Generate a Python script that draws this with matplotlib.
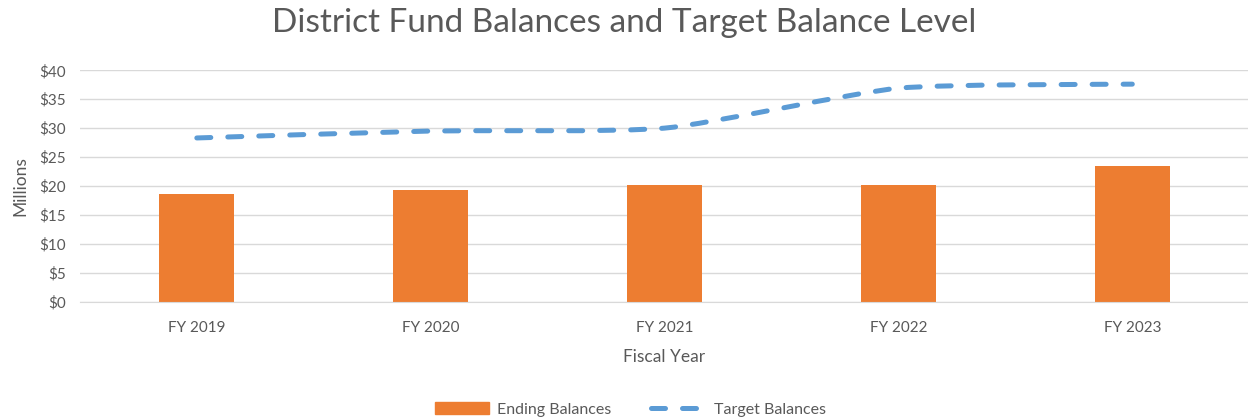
import matplotlib.pyplot as plt
from matplotlib.path import Path
from matplotlib.patches import PathPatch
from matplotlib.lines import Line2D
from matplotlib.patches import Patch

years = ['FY 2019', 'FY 2020', 'FY 2021', 'FY 2022', 'FY 2023']
ending_balances = [18.6, 19.3, 20.1, 20.1, 23.5]
target_balances = [28.3, 29.5, 30.0, 36.9, 37.6]
y_ticks = [0, 5, 10, 15, 20, 25, 30, 35, 40]

text_color = '#595959'
orange = '#ED7D31'
blue = '#5B9BD5'

plt.rcParams['font.family'] = ['Lato', 'DejaVu Sans']

fig = plt.figure(figsize=(12.48, 4.2), dpi=100)
ax = fig.add_axes([0.064, 0.2817, 0.937, 0.551])

x = list(range(len(years)))
ax.bar(x, ending_balances, width=0.32, color=orange, zorder=2)


def smooth_path(xs, ys, k=0.1):
    # smoothed line like excel: bezier curve through each point
    verts = [(xs[0], ys[0])]
    codes = [Path.MOVETO]
    n = len(xs)
    for i in range(n - 1):
        x0, y0 = xs[max(i - 1, 0)], ys[max(i - 1, 0)]
        x1, y1 = xs[i], ys[i]
        x2, y2 = xs[i + 1], ys[i + 1]
        x3, y3 = xs[min(i + 2, n - 1)], ys[min(i + 2, n - 1)]
        verts += [(x1 + (x2 - x0) * k, y1 + (y2 - y0) * k),
                  (x2 - (x3 - x1) * k, y2 - (y3 - y1) * k),
                  (x2, y2)]
        codes += [Path.CURVE4] * 3
    return Path(verts, codes)


line_style = dict(color=blue, linewidth=3.6, linestyle=(0, (2.8, 3.4)),
                  dash_capstyle='round')
patch = PathPatch(smooth_path(x, target_balances), fill=False, zorder=3,
                  edgecolor=blue, linewidth=3.6, linestyle=(0, (2.8, 3.4)),
                  capstyle='round')
ax.add_patch(patch)

ax.set_xlim(-0.5, len(years) - 0.5)
ax.set_ylim(0, 40)
ax.set_yticks(y_ticks)
ax.set_yticklabels(['${}'.format(v) for v in y_ticks])
ax.set_xticks(x)
ax.set_xticklabels(years)
ax.grid(axis='y', color='#D9D9D9', linewidth=1, zorder=0)
ax.set_axisbelow(True)
for s in ['top', 'right', 'left']:
    ax.spines[s].set_visible(False)
ax.spines['bottom'].set_color('#D9D9D9')
ax.tick_params(length=0, labelsize=11, colors=text_color, pad=10)
ax.tick_params(axis='x', pad=14)

ax.set_xlabel('Fiscal Year', fontsize=12.5, color=text_color, labelpad=10)
ax.set_ylabel('Millions', fontsize=12.5, color=text_color, labelpad=8)
fig.text(0.5, 0.945, 'District Fund Balances and Target Balance Level',
         ha='center', va='center', fontsize=24, color=text_color)

handles = [Patch(color=orange), Line2D([0], [0], **line_style)]
fig.legend(handles, ['Ending Balances', 'Target Balances'], loc='center',
           bbox_to_anchor=(0.505, 0.025), ncol=2, frameon=False, fontsize=11.5,
           labelcolor=text_color, handlelength=3.4, columnspacing=2.5,
           handletextpad=0.5)

plt.savefig('out.png', dpi=100)
